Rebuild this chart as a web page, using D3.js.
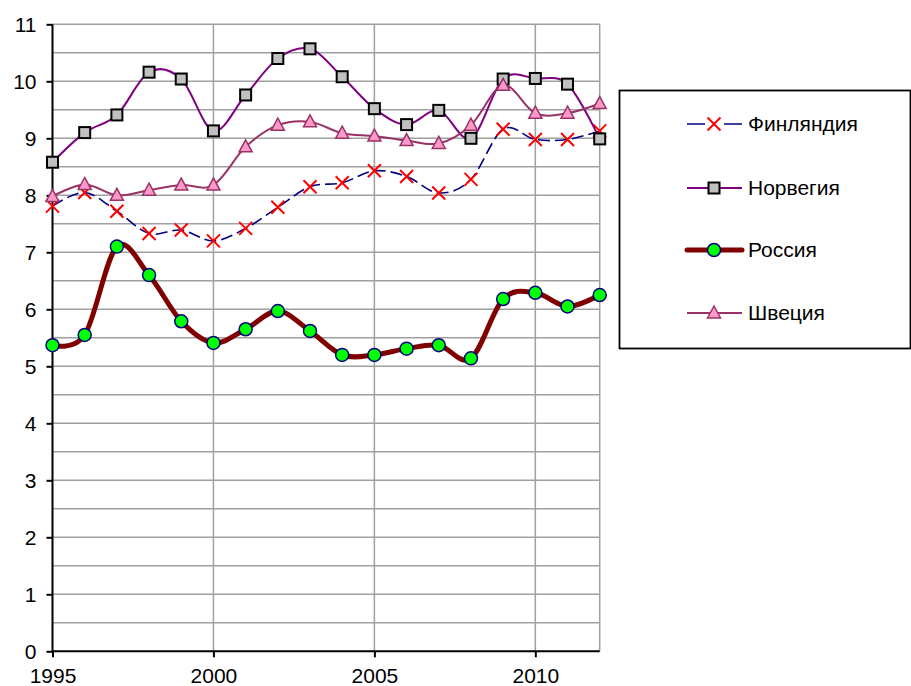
<!DOCTYPE html>
<html>
<head>
<meta charset="utf-8">
<script src="https://cdn.jsdelivr.net/npm/d3@7"></script>
<style>
  body { margin: 0; background: #fff; }
  text { font-family: "Liberation Sans", Arial, sans-serif; fill: #000; }
</style>
</head>
<body>
<div id="chart"></div>
<script>
// data
const years = [1995, 1996, 1997, 1998, 1999, 2000, 2001, 2002, 2003, 2004, 2005, 2006, 2007, 2008, 2009, 2010, 2011, 2012];
const finland = [7.81, 8.05, 7.72, 7.33, 7.39, 7.20, 7.42, 7.79, 8.15, 8.22, 8.43, 8.33, 8.04, 8.28, 9.16, 8.98, 8.98, 9.13];
const norway = [8.58, 9.10, 9.41, 10.16, 10.04, 9.13, 9.76, 10.40, 10.57, 10.08, 9.52, 9.24, 9.49, 9.00, 10.04, 10.05, 9.95, 8.99];
const russia = [5.37, 5.55, 7.10, 6.60, 5.79, 5.41, 5.65, 5.97, 5.62, 5.20, 5.20, 5.31, 5.37, 5.14, 6.18, 6.29, 6.05, 6.25];
const sweden = [7.98, 8.19, 8.00, 8.09, 8.18, 8.18, 8.85, 9.23, 9.29, 9.09, 9.04, 8.96, 8.91, 9.23, 9.93, 9.44, 9.44, 9.61];
const seriesNames = ['Финляндия', 'Норвегия', 'Россия', 'Швеция'];
const xTicks = [1995, 2000, 2005, 2010];
const xGrid = [2000, 2005, 2010, 2012];
const yTicks = [0, 1, 2, 3, 4, 5, 6, 7, 8, 9, 10, 11];

const series = [
  { name: seriesNames[0], values: finland, stroke: '#000080', width: 1.6, dash: '12,5', marker: 'x' },
  { name: seriesNames[1], values: norway, stroke: '#800080', width: 2, dash: null, marker: 'square' },
  { name: seriesNames[2], values: russia, stroke: '#800000', width: 5, dash: null, marker: 'circle' },
  { name: seriesNames[3], values: sweden, stroke: '#993366', width: 2, dash: null, marker: 'triangle' }
];

const W = 911, H = 686;
const x0 = 52.5, x1 = 599.7, yTop = 24.3, yBottom = 651.3;

const xScale = d3.scaleLinear().domain([1995, 2012]).range([x0, x1]);
const yScale = d3.scaleLinear().domain([0, 11]).range([yBottom, yTop]);

const svg = d3.select('#chart')
  .append('svg')
  .attr('width', W)
  .attr('height', H);

// horizontal grid every 0.5
svg.append('g')
  .selectAll('line')
  .data(d3.range(0.5, 11.01, 0.5))
  .enter()
  .append('line')
  .attr('x1', x0).attr('x2', x1)
  .attr('y1', d => yScale(d)).attr('y2', d => yScale(d))
  .attr('stroke', '#a0a0a0')
  .attr('stroke-width', 1.5);

// vertical grid
svg.append('g')
  .selectAll('line')
  .data(xGrid)
  .enter()
  .append('line')
  .attr('x1', d => xScale(d)).attr('x2', d => xScale(d))
  .attr('y1', yTop).attr('y2', yBottom)
  .attr('stroke', '#a0a0a0')
  .attr('stroke-width', 1.5);

// axes
const yAxis = svg.append('g')
  .attr('transform', `translate(${x0}, 0)`)
  .call(d3.axisLeft(yScale).tickValues(yTicks).tickSize(6).tickPadding(10).tickFormat(d3.format('d')));

const xAxis = svg.append('g')
  .attr('transform', `translate(0, ${yBottom})`)
  .call(d3.axisBottom(xScale).tickValues(xTicks).tickSize(6).tickPadding(11).tickFormat(d3.format('d')));

[yAxis, xAxis].forEach(a => {
  a.select('.domain').attr('stroke', '#000').attr('stroke-width', 2);
  a.selectAll('.tick line').attr('stroke', '#000').attr('stroke-width', 2);
  a.selectAll('.tick text')
    .style('font-family', '"Liberation Sans", Arial, sans-serif')
    .style('font-size', '21px')
    .attr('fill', '#000');
});
yAxis.select('.domain').attr('d', `M0,${yTop}V${yBottom}`);
xAxis.select('.domain').attr('d', `M${x0},0H${x1}`);

// marker drawing
const drawMarker = (g, type, cx, cy) => {
  if (type === 'x') {
    const s = 6.5;
    g.append('path')
      .attr('d', `M${cx - s},${cy - s}L${cx + s},${cy + s}M${cx - s},${cy + s}L${cx + s},${cy - s}`)
      .attr('stroke', '#ff0000')
      .attr('stroke-width', 2)
      .attr('fill', 'none');
  } else if (type === 'square') {
    const s = 5.5;
    g.append('rect')
      .attr('x', cx - s).attr('y', cy - s)
      .attr('width', 2 * s).attr('height', 2 * s)
      .attr('fill', '#c0c0c0')
      .attr('stroke', '#000')
      .attr('stroke-width', 2);
  } else if (type === 'circle') {
    g.append('circle')
      .attr('cx', cx).attr('cy', cy).attr('r', 6.5)
      .attr('fill', '#00ff00')
      .attr('stroke', '#000080')
      .attr('stroke-width', 1.5);
  } else if (type === 'triangle') {
    g.append('path')
      .attr('d', `M${cx},${cy - 7}L${cx + 6.5},${cy + 5}L${cx - 6.5},${cy + 5}Z`)
      .attr('fill', '#ff99cc')
      .attr('stroke', '#993366')
      .attr('stroke-width', 1.5);
  }
};

const line = d3.line()
  .x((d, i) => xScale(years[i]))
  .y(d => yScale(d))
  .curve(d3.curveCardinal.tension(0));

series.forEach(s => {
  const g = svg.append('g');
  g.append('path')
    .datum(s.values)
    .attr('fill', 'none')
    .attr('stroke', s.stroke)
    .attr('stroke-width', s.width)
    .attr('stroke-dasharray', s.dash)
    .attr('stroke-linejoin', 'round')
    .attr('d', line);
  s.values.forEach((v, i) => drawMarker(g, s.marker, xScale(years[i]), yScale(v)));
});

// legend
const legend = svg.append('g');
legend.append('rect')
  .attr('x', 619.5).attr('y', 90.5)
  .attr('width', 291).attr('height', 258)
  .attr('fill', '#fff')
  .attr('stroke', '#000')
  .attr('stroke-width', 1.8);

const legendY = [124, 188, 250, 313];
series.forEach((s, i) => {
  const g = legend.append('g');
  const ly = legendY[i];
  g.append('line')
    .attr('x1', 687).attr('x2', 742)
    .attr('y1', ly).attr('y2', ly)
    .attr('stroke', s.stroke)
    .attr('stroke-width', s.width)
    .attr('stroke-linecap', s.width > 3 ? 'round' : 'butt')
    .attr('stroke-dasharray', s.dash ? '18,19' : null);
  drawMarker(g, s.marker, 714, ly);
  g.append('text')
    .attr('x', 748).attr('y', ly)
    .attr('dy', '0.35em')
    .style('font-size', '21px')
    .text(s.name);
});
</script>
</body>
</html>
